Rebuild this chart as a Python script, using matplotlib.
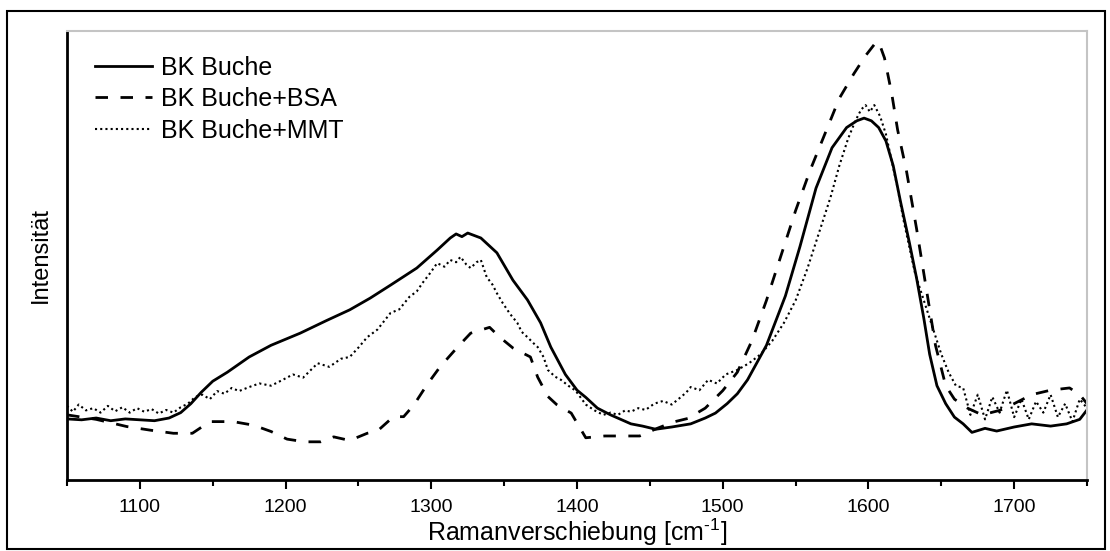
import matplotlib
matplotlib.use("Agg")
import matplotlib.pyplot as plt
from matplotlib.patches import Rectangle

plt.rcParams['font.family'] = ['Liberation Sans', 'DejaVu Sans']
plt.rcParams['mathtext.fontset'] = 'custom'
plt.rcParams['mathtext.rm'] = 'Liberation Sans'
plt.rcParams['mathtext.it'] = 'Liberation Sans:italic'
plt.rcParams['mathtext.bf'] = 'Liberation Sans:bold'

# BK Buche (solid)
wn_buche = [1050, 1060, 1070, 1080, 1090, 1100, 1110, 1120, 1128, 1135, 1142, 1150, 1160,
            1175, 1190, 1210, 1228, 1244, 1258, 1272, 1290, 1304, 1313, 1317, 1321, 1325,
            1334, 1345, 1356, 1366, 1375, 1382, 1392, 1400, 1406, 1414, 1423, 1437, 1445,
            1454, 1465, 1478, 1488, 1495, 1503, 1510, 1517, 1530, 1543, 1553, 1564, 1575,
            1585, 1592, 1597, 1602, 1607, 1612, 1617, 1622, 1628, 1633, 1638, 1642, 1647,
            1653, 1659, 1665, 1671, 1680, 1688, 1700, 1712, 1725, 1736, 1745, 1750]
int_buche = [13.6, 13.4, 13.8, 13.2, 13.6, 13.4, 13.2, 13.8, 15.0, 17.0, 19.5, 22.0, 24.0,
             27.4, 30.0, 32.7, 35.5, 37.9, 40.5, 43.4, 47.2, 51.2, 53.9, 54.8, 54.2, 55.0,
             53.9, 50.6, 44.5, 40.1, 35.0, 29.6, 23.5, 20.0, 18.4, 16.0, 14.5, 12.5, 12.0,
             11.3, 11.8, 12.5, 13.8, 14.9, 17.0, 19.2, 22.3, 30.0, 41.0, 52.0, 65.0, 74.0,
             78.5, 80.0, 80.6, 80.0, 78.5, 75.5, 70.0, 62.0, 53.0, 45.0, 36.0, 28.0, 21.0,
             17.0, 14.0, 12.5, 10.6, 11.5, 10.9, 11.8, 12.5, 12.0, 12.5, 13.5, 15.6]

# BK Buche+BSA (dashed)
wn_bsa = [1050, 1070, 1091, 1107, 1123, 1136, 1148, 1164, 1178, 1190, 1201, 1213, 1224,
          1233, 1244, 1256, 1263, 1274, 1281, 1288, 1297, 1306, 1318, 1327, 1340, 1347,
          1356, 1368, 1373, 1380, 1386, 1396, 1406, 1419, 1429, 1443, 1455, 1466, 1476,
          1488, 1500, 1510, 1520, 1530, 1540, 1550, 1560, 1570, 1580, 1590, 1598, 1604,
          1607, 1611, 1616, 1620, 1626, 1633, 1640, 1646, 1653, 1659, 1668, 1678, 1690,
          1700, 1712, 1725, 1738, 1745, 1750]
int_bsa = [14.5, 13.5, 11.9, 11.1, 10.4, 10.4, 13.0, 13.0, 12.2, 10.8, 9.1, 8.5, 8.5,
           9.6, 8.8, 10.4, 10.9, 14.1, 14.1, 16.7, 21.2, 25.2, 29.6, 32.7, 34.0, 31.8,
           29.4, 27.4, 22.9, 18.6, 16.8, 14.9, 9.4, 9.8, 9.8, 9.8, 11.5, 12.9, 13.7,
           16.0, 19.9, 24.0, 31.0, 40.0, 50.0, 60.0, 69.0, 77.0, 85.0, 90.5, 94.5, 97.0,
           97.6, 94.0, 86.0, 78.0, 69.0, 56.0, 42.0, 30.0, 21.0, 18.0, 16.0, 14.5, 15.5,
           17.0, 19.0, 20.0, 20.5, 19.0, 17.0]

# BK Buche+MMT (dotted)
wn_mmt = [1050, 1054, 1058, 1063, 1068, 1073, 1078, 1083, 1088, 1093, 1098, 1103, 1108,
          1113, 1118, 1123, 1128, 1133, 1138, 1143, 1148, 1153, 1158, 1163, 1168, 1175,
          1182, 1190, 1198, 1205, 1212, 1222, 1230, 1238, 1244, 1250, 1256, 1263, 1272,
          1278, 1285, 1290, 1294, 1299, 1304, 1309, 1313, 1317, 1320, 1324, 1327, 1331,
          1334, 1338, 1342, 1345, 1349, 1354, 1359, 1362, 1366, 1370, 1373, 1377, 1380,
          1385, 1389, 1394, 1399, 1406, 1412, 1418, 1423, 1428, 1433, 1437, 1442, 1447,
          1453, 1459, 1465, 1471, 1475, 1478, 1484, 1490, 1496, 1502, 1510, 1518, 1526,
          1534, 1542, 1550, 1558, 1566, 1574, 1580, 1586, 1591, 1595, 1598, 1601, 1604,
          1608, 1612, 1616, 1620, 1624, 1628, 1632, 1636, 1640, 1645, 1650, 1655, 1660,
          1665, 1670, 1675, 1680, 1685, 1690, 1695, 1700, 1705, 1710, 1715, 1720, 1725,
          1730, 1735, 1740, 1745, 1750]
int_mmt = [16.5, 15.2, 16.8, 15.5, 16.0, 15.0, 16.5, 15.3, 16.2, 15.0, 16.0, 15.2, 15.8,
           14.8, 15.6, 15.0, 16.2, 17.0, 18.5, 19.0, 18.0, 19.8, 19.2, 20.5, 19.8, 20.7,
           21.5, 21.0, 22.3, 23.5, 22.8, 26.0, 25.2, 27.0, 27.4, 29.5, 31.8, 33.5, 37.2,
           38.0, 40.8, 42.0, 43.9, 46.0, 48.3, 47.5, 49.0, 48.5, 49.7, 48.0, 47.2, 48.5,
           49.0, 45.2, 43.5, 41.6, 39.4, 37.0, 35.0, 33.0, 31.8, 30.5, 29.6, 27.4, 24.5,
           23.0, 22.3, 21.0, 19.9, 16.8, 15.5, 14.5, 15.0, 14.5, 15.5, 15.2, 16.0, 15.6,
           17.0, 17.6, 16.8, 18.4, 19.5, 20.7, 20.0, 22.3, 21.5, 23.5, 24.5, 26.0, 28.0,
           31.0, 35.0, 40.0, 47.0, 55.0, 63.0, 70.0, 76.0, 80.0, 82.5, 83.5, 82.0, 83.5,
           81.0, 77.0, 71.0, 65.0, 58.0, 52.0, 46.0, 42.0, 38.0, 33.0, 28.0, 24.0, 21.0,
           20.5, 14.5, 19.0, 13.5, 18.5, 15.0, 20.0, 14.0, 18.0, 13.5, 17.5, 15.0, 19.0,
           14.0, 17.0, 13.0, 18.0, 16.0]

major_ticks = [1100, 1200, 1300, 1400, 1500, 1600, 1700]
minor_ticks = [1050, 1150, 1250, 1350, 1450, 1550, 1650, 1750]

fig = plt.figure(figsize=(11.1, 5.51), dpi=100)
ax = fig.add_axes([0.0604, 0.1289, 0.9189, 0.8148])

ax.plot(wn_buche, int_buche, color='black', lw=2.0, ls='-', label='BK Buche')
ax.plot(wn_bsa, int_bsa, color='black', lw=2.0, ls=(0, (4.5, 4.5)), label='BK Buche+BSA')
ax.plot(wn_mmt, int_mmt, color='black', lw=1.5, ls=(0, (1, 1.5)), label='BK Buche+MMT')

ax.set_xlim(1050, 1750)
ax.set_ylim(0, 100)
ax.set_xticks(major_ticks)
ax.set_xticks(minor_ticks, minor=True)
ax.set_yticks([])
ax.tick_params(axis='x', which='major', direction='out', length=6.5, width=1.5, labelsize=14, pad=7.5)
ax.tick_params(axis='x', which='minor', direction='out', length=4, width=1.5)

for side in ['left', 'bottom']:
    ax.spines[side].set_linewidth(2.0)
    ax.spines[side].set_color('black')
for side in ['top', 'right']:
    ax.spines[side].set_linewidth(1.5)
    ax.spines[side].set_color('#c4c4c4')

ax.set_xlabel('Ramanverschiebung [cm$^{\\text{-1}}$]', fontsize=18, labelpad=0)
ax.set_ylabel('Intensität', fontsize=17, labelpad=11)

ax.legend(loc='upper left', frameon=False, fontsize=18, handlelength=2.3,
          handletextpad=0.36, labelspacing=0.3, borderaxespad=0.0,
          bbox_to_anchor=(0.0176, 0.9677))

# outer frame around the figure
fig.patches.append(Rectangle((0.0063, 0.0036), 0.9892, 0.9764, transform=fig.transFigure,
                             fill=False, edgecolor='black', lw=1.5))

fig.savefig('out.png', dpi=100)
